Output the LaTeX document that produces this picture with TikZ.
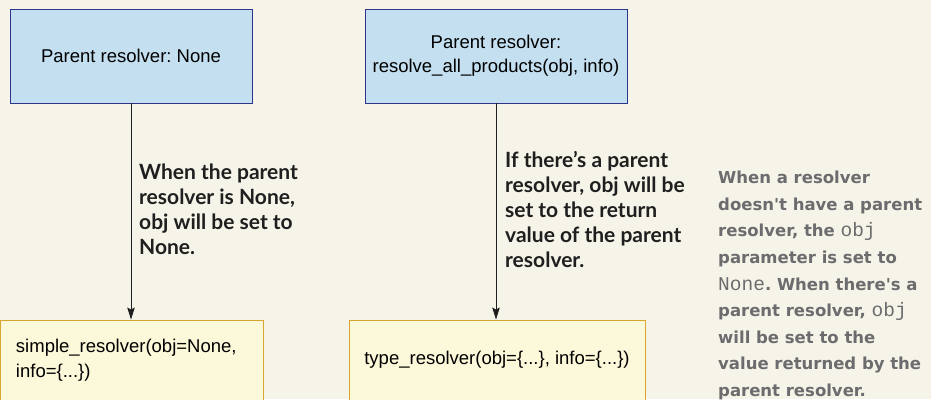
\documentclass[tikz,border=0pt]{standalone}
\usepackage{fontspec}
\setmainfont{Liberation Sans}
\newfontfamily\notefont{Lato}
\newfontfamily\sidefont{DejaVu Sans}
\newfontfamily\codefont{Liberation Mono}
\usetikzlibrary{arrows.meta,positioning}
\definecolor{paper}{RGB}{246,244,232}
\definecolor{parentfill}{RGB}{196,224,240}
\definecolor{parentline}{RGB}{46,52,140}
\definecolor{childfill}{RGB}{252,248,218}
\definecolor{childline}{RGB}{216,166,44}
\definecolor{sidegray}{RGB}{108,108,110}
\newcommand{\cde}[1]{{\codefont\mdseries\fontsize{19.5}{26}\selectfont #1}}
\frenchspacing

\begin{document}
\begin{tikzpicture}[>={Stealth[length=12pt,width=7.5pt,inset=2pt]}, x=1pt, y=-1pt,
  parentbox/.style={draw=parentline, fill=parentfill, line width=0.9pt, minimum height=94pt,
    inner sep=0pt, align=center, font=\fontsize{18.5}{24}\selectfont},
  childbox/.style={draw=childline, fill=childfill, line width=0.9pt, minimum height=80pt,
    inner ysep=0pt, font=\fontsize{18.5}{25}\selectfont},
  note/.style={anchor=north west, inner sep=0pt, align=left,
    font=\notefont\bfseries\fontsize{21}{25}\selectfont, text=black!88},
  link/.style={->, line width=0.9pt, black!88}]
  % ---------------------------------------------------------------- page
  \fill[paper] (0,0) rectangle (931,399);
  \clip (0,0) rectangle (931,399);
  % ---------------------------------------------------------------- parent resolvers
  \node[parentbox, minimum width=242pt] (parentnone) at (131,56) {Parent resolver: None};
  \node[parentbox, minimum width=262pt] (parentall) at (496,56)
    {Parent resolver:\\resolve\_all\_products(obj, info)};
  % ---------------------------------------------------------------- resolvers being called
  \node[childbox, inner xsep=16pt, text width=231pt, align=left] (childsimple) at (131.5,360)
    {simple\_resolver(obj=None,\\info=\{...\})};
  \node[childbox, minimum width=296pt, inner xsep=0pt, align=center] (childtype) at (497,360)
    {type\_resolver(obj=\{...\}, info=\{...\})};
  % ---------------------------------------------------------------- obj is passed down
  \draw[link] (parentnone.south) -- (parentnone.south |- childsimple.north);
  \draw[link] (parentall.south) -- (parentall.south |- childtype.north);
  \node[note] (notenone) at (139,164)
    {When the parent\\resolver is None,\\obj will be set to\\None.};
  \node[note] (noteall) at (505,151)
    {If there’s a parent\\resolver, obj will be\\set to the return\\value of the parent\\resolver.};
  % ---------------------------------------------------------------- side remark
  \node[anchor=north west, inner sep=0pt, align=left, text=sidegray,
    font=\sidefont\bfseries\fontsize{16.5}{26.6}\selectfont] (sidenote) at (718,171)
    {When a resolver\\doesn't have a parent\\resolver, the \cde{obj}\\parameter is set to\\
     \cde{None}. When there's a\\parent resolver, \cde{obj}\\will be set to the\\
     value returned by the\\parent resolver.};
\end{tikzpicture}
\end{document}
